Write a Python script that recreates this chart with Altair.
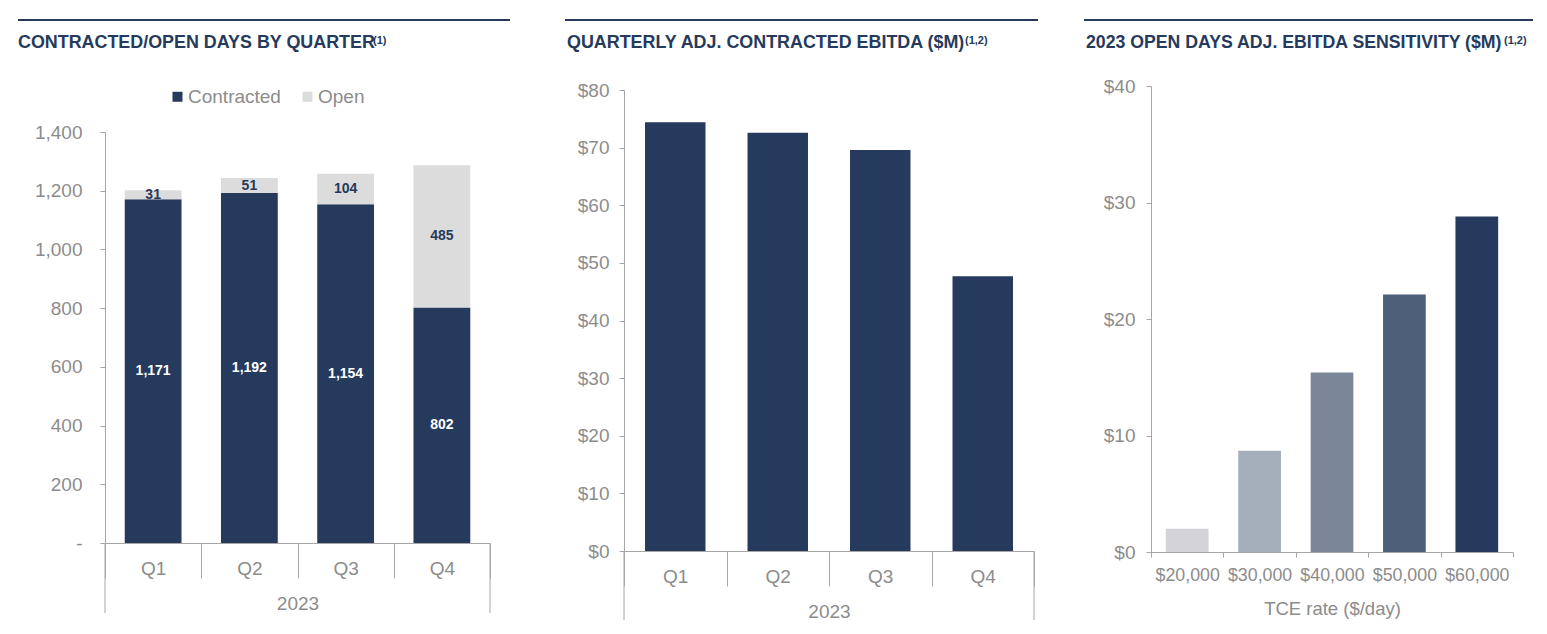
import altair as alt
import pandas as pd

FONT = "Liberation Sans"
NAVY = "#253a5c"
OPEN_GRAY = "#dcdcdc"
LABEL_GRAY = "#8c8c8c"
AXIS_GRAY = "#a6a6a6"

# ---------------- data ----------------
quarters = ["Q1", "Q2", "Q3", "Q4"]
year_label = "2023"
day_types = ["Contracted", "Open"]
contracted_days = [1171, 1192, 1154, 802]
open_days = [31, 51, 104, 485]

ebitda_m = [74.4, 72.6, 69.6, 47.7]

tce_rates = ["$20,000", "$30,000", "$40,000", "$50,000", "$60,000"]
sensitivity_m = [2.0, 8.7, 15.4, 22.1, 28.8]
sens_colors = ["#d4d3d9", "#a5afbb", "#7b8798", "#4e6079", "#253a5c"]

titles = ["CONTRACTED/OPEN DAYS BY QUARTER",
          "QUARTERLY ADJ. CONTRACTED EBITDA ($M)",
          "2023 OPEN DAYS ADJ. EBITDA SENSITIVITY ($M)"]
supers = ["(1)", "(1,2)", "(1,2)"]
tce_title = "TCE rate ($/day)"

# all panels share a common view top; header sits above it
RULE_Y, TITLE_Y, SUP_Y = -66, -38, -42.5


def decorations(title, sup, rx1, rx2, tx, sx, fs=17.9):
    d = pd.DataFrame({"title": [title], "sup": [sup]})
    rule = alt.Chart(d).mark_rule(color=NAVY, strokeWidth=2).encode(
        x=alt.value(rx1), x2=alt.value(rx2), y=alt.value(RULE_Y))
    t = alt.Chart(d).mark_text(align="left", baseline="alphabetic", font=FONT,
                               fontSize=fs, fontWeight="bold", color=NAVY).encode(
        x=alt.value(tx), y=alt.value(TITLE_Y), text="title:N")
    s = alt.Chart(d).mark_text(align="left", baseline="alphabetic", font=FONT,
                               fontSize=11, fontWeight="bold", color=NAVY).encode(
        x=alt.value(sx), y=alt.value(SUP_Y), text="sup:N")
    return [rule, t, s]


def group_lines(w, h, depth):
    d = pd.DataFrame({"k": [0]})
    left = alt.Chart(d).mark_rule(color=AXIS_GRAY, strokeWidth=1).encode(
        x=alt.value(0), y=alt.value(h), y2=alt.value(h + depth))
    right = alt.Chart(d).mark_rule(color=AXIS_GRAY, strokeWidth=1).encode(
        x=alt.value(w), y=alt.value(h), y2=alt.value(h + depth))
    return [left, right]


def quarter_axis():
    return alt.Axis(title=year_label, titleY=66, titleBaseline="alphabetic",
                    titleFontSize=19, titleColor=LABEL_GRAY, titleFontWeight="normal",
                    titleFont=FONT, labelAngle=0, labelFontSize=19, labelColor=LABEL_GRAY,
                    labelFont=FONT, labelBaseline="alphabetic", labelPadding=-4,
                    tickSize=35, tickBand="extent", tickColor=AXIS_GRAY,
                    domainColor=AXIS_GRAY, grid=False)


def y_axis(values, label_expr=None, fmt=None, pad=10):
    kw = dict(values=values, title=None, grid=False, tickSize=5, labelPadding=pad,
              labelFontSize=19, labelColor=LABEL_GRAY, labelFont=FONT,
              tickColor=AXIS_GRAY, domainColor=AXIS_GRAY)
    if label_expr:
        kw["labelExpr"] = label_expr
    if fmt:
        kw["format"] = fmt
    return alt.Axis(**kw)


band = alt.Scale(paddingInner=0, paddingOuter=0)
BAR_W = {"band": 0.59}

# ---------------- panel 1 ----------------
W1, H1, TOP1 = 385, 457, 46
df1 = pd.DataFrame({
    "Quarter": quarters * 2,
    "Type": [day_types[0]] * 4 + [day_types[1]] * 4,
    "Days": contracted_days + open_days,
    "ord": [0] * 4 + [1] * 4,
})
y1_scale = alt.Scale(domain=[0, 1400], range=[H1, TOP1])
bars1 = alt.Chart(df1).mark_bar(width=BAR_W).encode(
    x=alt.X("Quarter:N", sort=quarters, scale=band, axis=quarter_axis()),
    y=alt.Y("Days:Q", stack="zero", scale=y1_scale,
            axis=y_axis(list(range(0, 1401, 200)),
                        label_expr="datum.value == 0 ? '-' : format(datum.value, ',')", pad=18)),
    color=alt.Color("Type:N", scale=alt.Scale(domain=day_types, range=[NAVY, OPEN_GRAY]),
                    legend=alt.Legend(title=None, orient="none", direction="horizontal",
                                      legendX=63, legendY=1, symbolType="square",
                                      symbolSize=100, symbolStrokeWidth=0,
                                      labelFontSize=19, labelColor=LABEL_GRAY, labelFont=FONT,
                                      labelOffset=1, columnPadding=17, padding=0)),
    order=alt.Order("ord:Q"),
)
labels1 = alt.Chart(df1).transform_stack(
    stack="Days", as_=["y0", "y1"], groupby=["Quarter"], sort=[alt.SortField("ord")]
).transform_calculate(mid="(datum.y0 + datum.y1) / 2").mark_text(
    font=FONT, fontSize=14, fontWeight="bold", baseline="middle"
).encode(
    x=alt.X("Quarter:N", sort=quarters, scale=band),
    y=alt.Y("mid:Q", scale=y1_scale, stack=None),
    text=alt.Text("Days:Q", format=","),
    color=alt.condition("datum.Type === 'Contracted'", alt.value("white"), alt.value(NAVY)),
)
p1 = alt.layer(bars1, labels1, *group_lines(W1, H1, 70),
               *decorations(titles[0], supers[0], -87, 405, -87, 268)
               ).properties(width=W1, height=H1)

# ---------------- panel 2 ----------------
W2, H2, TOP2 = 410, 465, 4
df2 = pd.DataFrame({"Quarter": quarters, "EBITDA": ebitda_m})
bars2 = alt.Chart(df2).mark_bar(color=NAVY, width=BAR_W).encode(
    x=alt.X("Quarter:N", sort=quarters, scale=band, axis=quarter_axis()),
    y=alt.Y("EBITDA:Q", scale=alt.Scale(domain=[0, 80], range=[H2, TOP2]),
            axis=y_axis(list(range(0, 81, 10)), fmt="$.0f", pad=10)),
)
p2 = alt.layer(bars2, *group_lines(W2, H2, 69),
               *decorations(titles[1], supers[1], -59, 414, -57, 341)
               ).properties(width=W2, height=H2)

# ---------------- panel 3 ----------------
W3, H3 = 362, 466
df3 = pd.DataFrame({"TCE": tce_rates, "Sens": sensitivity_m, "col": sens_colors})
bars3 = alt.Chart(df3).mark_bar(width=BAR_W).encode(
    x=alt.X("TCE:N", sort=tce_rates, scale=band,
            axis=alt.Axis(title=tce_title, titleY=62, titleBaseline="alphabetic",
                          titleFontSize=18.5, titleColor=LABEL_GRAY, titleFontWeight="normal",
                          titleFont=FONT, labelAngle=0, labelFontSize=17.8,
                          labelColor=LABEL_GRAY, labelFont=FONT, labelBaseline="alphabetic",
                          labelPadding=23, tickSize=5, tickBand="extent",
                          tickColor=AXIS_GRAY, domainColor=AXIS_GRAY, grid=False)),
    y=alt.Y("Sens:Q", scale=alt.Scale(domain=[0, 40]),
            axis=y_axis(list(range(0, 41, 10)), fmt="$.0f", pad=11)),
    color=alt.Color("col:N", scale=None, legend=None),
)
p3 = alt.layer(bars3,
               *decorations(titles[2], supers[2], -67, 382, -65, 353, fs=17.7)
               ).properties(width=W3, height=H3)

chart = alt.hconcat(
    alt.hconcat(p1, p2, spacing=53), p3, spacing=44
).resolve_scale(color="independent").properties(
    padding={"left": 9, "top": 11, "right": 5, "bottom": 5},
    background="white",
).configure_view(strokeWidth=0, stroke="transparent")

chart.save("out.html", embed_options={"renderer": "svg", "actions": False})
